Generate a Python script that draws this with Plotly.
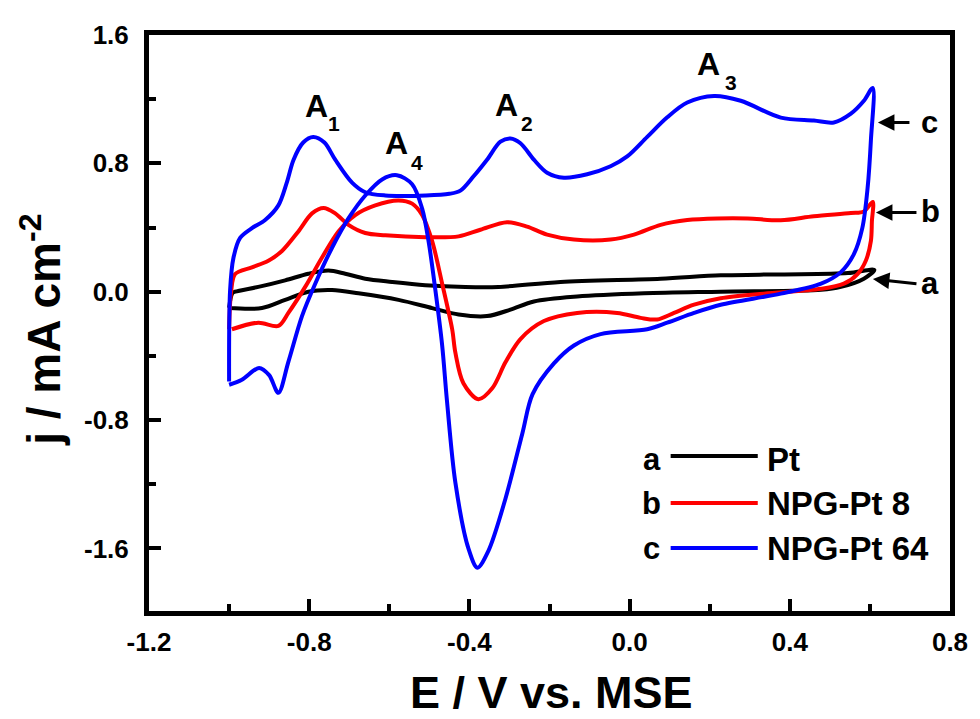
import plotly.graph_objects as go

# ---------------- data ----------------
# Pt (curve a): anodic sweep followed by cathodic sweep
pt_x = [-1.0, -0.992, -0.985, -0.927, -0.86, -0.802, -0.752, -0.71, -0.66, -0.593, -0.51, -0.41,
        -0.3275, -0.1725, 0.0775, 0.2275, 0.3775, 0.545, 0.611,
        0.585, 0.5275, 0.478, 0.2275, 0.036, -0.131, -0.239, -0.2975, -0.356, -0.427, -0.493,
        -0.577, -0.677, -0.743, -0.802, -0.86, -0.918, -1.0]
pt_y = [-0.10, -0.01, 0.0, 0.03, 0.071, 0.112, 0.132, 0.112, 0.081, 0.061, 0.041, 0.03,
        0.03, 0.061, 0.081, 0.102, 0.108, 0.116, 0.136,
        0.081, 0.03, 0.012, 0.0, -0.01, -0.03, -0.061, -0.112, -0.152, -0.142, -0.102,
        -0.051, -0.01, 0.01, 0.0, -0.051, -0.102, -0.102]

# NPG-Pt 8 (curve b)
npg8_x = [-1.0, -0.995, -0.985, -0.943, -0.902, -0.868, -0.827, -0.793, -0.764, -0.735, -0.702, -0.66,
          -0.61, -0.51, -0.427, -0.3725, -0.306, -0.256, -0.206, -0.139, -0.0475, 0.011, 0.0775,
          0.144, 0.219, 0.295, 0.3775, 0.46, 0.5525, 0.585, 0.607,
          0.605, 0.6025, 0.59, 0.569, 0.535, 0.478, 0.335, 0.2275, 0.161, 0.111, 0.069, 0.0275,
          -0.031, -0.131, -0.214, -0.2725, -0.31, -0.3425, -0.3775, -0.415, -0.435, -0.443,
          -0.468, -0.493, -0.518, -0.543, -0.577, -0.635, -0.685, -0.727, -0.768, -0.81, -0.852,
          -0.877, -0.927, -0.993]
npg8_y = [-0.234, 0.0, 0.11, 0.152, 0.193, 0.254, 0.376, 0.488, 0.522, 0.488, 0.417, 0.366,
          0.352, 0.34, 0.345, 0.386, 0.433, 0.406, 0.356, 0.325, 0.325, 0.356, 0.417,
          0.447, 0.457, 0.457, 0.445, 0.47, 0.49, 0.50, 0.56,
          0.44, 0.317, 0.195, 0.11, 0.05, 0.018, -0.012, -0.041, -0.081, -0.132, -0.173, -0.163,
          -0.132, -0.132, -0.183, -0.295, -0.44, -0.60, -0.67, -0.57, -0.38, -0.234,
          0.05, 0.315, 0.478, 0.549, 0.569, 0.538, 0.478, 0.376, 0.213, 0.03, -0.132,
          -0.213, -0.193, -0.234]

# NPG-Pt 64 (curve c)
npg64_x = [-1.0, -0.9975, -0.989, -0.9725, -0.943, -0.91, -0.877, -0.856, -0.839, -0.815, -0.79,
           -0.762, -0.735, -0.693, -0.66, -0.61, -0.51, -0.45, -0.4225, -0.389, -0.356, -0.3225,
           -0.2975, -0.2725, -0.239, -0.206, -0.164, -0.106, -0.0475, -0.006, 0.044, 0.094, 0.144,
           0.211, 0.2775, 0.3775, 0.46, 0.51, 0.5525, 0.585, 0.607,
           0.6025, 0.594, 0.581, 0.56, 0.5275, 0.478, 0.3775, 0.2275, 0.161, 0.094, 0.044,
           -0.0725, -0.139, -0.189, -0.2425, -0.2675, -0.31, -0.3525, -0.38, -0.4025, -0.435,
           -0.456, -0.468, -0.485, -0.502, -0.518, -0.543, -0.581, -0.618, -0.66, -0.702, -0.743,
           -0.785, -0.818, -0.852, -0.877, -0.9, -0.925, -0.968, -1.0]
npg64_y = [-0.56, 0.01, 0.213, 0.335, 0.396, 0.447, 0.538, 0.68, 0.823, 0.93, 0.965,
           0.93, 0.823, 0.68, 0.62, 0.60, 0.60, 0.61, 0.63, 0.721, 0.823, 0.935,
           0.955, 0.925, 0.823, 0.742, 0.711, 0.732, 0.782, 0.843, 0.965, 1.087, 1.179,
           1.22, 1.19, 1.085, 1.067, 1.055, 1.11, 1.19, 1.27,
           0.945, 0.64, 0.396, 0.234, 0.122, 0.05, -0.012, -0.081, -0.132, -0.193, -0.234,
           -0.264, -0.335, -0.447, -0.64, -0.88, -1.29, -1.615, -1.72, -1.6, -1.19,
           -0.68, -0.335, 0.01, 0.315, 0.518, 0.67, 0.726, 0.70, 0.60, 0.457, 0.274,
           0.05, -0.152, -0.437, -0.63, -0.52, -0.475, -0.549, -0.58]

series_letters = ["a", "b", "c"]
series_names = ["Pt", "NPG-Pt 8", "NPG-Pt 64"]
peak_names = ["A", "A", "A", "A"]
peak_indices = ["1", "2", "3", "4"]

x_tick_vals = [-1.2, -0.8, -0.4, 0.0, 0.4, 0.8]
x_tick_text = ["-1.2", "-0.8", "-0.4", "0.0", "0.4", "0.8"]
y_tick_vals = [-1.6, -0.8, 0.0, 0.8, 1.6]
y_tick_text = ["-1.6", "-0.8", "0.0", "0.8", "1.6"]

x_title = "E / V vs. MSE"
y_title = "j / mA cm<sup>-2</sup>"

# ---------------- styling ----------------
FONT = "Liberation Sans, Arial, sans-serif"
colors = ["#000000", "#ff0000", "#0000ff"]
LW = 4

fig = go.Figure()
for xs, ys, c, n in [(pt_x, pt_y, colors[0], series_names[0]),
                     (npg8_x, npg8_y, colors[1], series_names[1]),
                     (npg64_x, npg64_y, colors[2], series_names[2])]:
    fig.add_trace(go.Scatter(x=xs, y=ys, mode="lines", name=n,
                             line=dict(color=c, width=LW, shape="spline", smoothing=0.9),
                             showlegend=False))

annotations = []
shapes = []

# Peak labels A1..A4 (main letter + subscript)
peak_pos = [(-0.7825, 1.16, -0.7375, 1.049),
            (-0.3075, 1.165, -0.255, 1.046),
            (0.1975, 1.42, 0.2525, 1.302),
            (-0.5825, 0.927, -0.53, 0.808)]
for name, idx, (xa, ya, xs_, ys_) in zip(peak_names, peak_indices, peak_pos):
    annotations.append(dict(x=xa, y=ya, xref="x", yref="y", text=name, showarrow=False,
                            font=dict(family=FONT, size=32, color="black", weight="bold"),
                            xanchor="center", yanchor="middle"))
    annotations.append(dict(x=xs_, y=ys_, xref="x", yref="y", text=idx, showarrow=False,
                            font=dict(family=FONT, size=21, color="black", weight="bold"),
                            xanchor="center", yanchor="middle"))

# Arrows pointing at the curve ends with letters
arrow_pos = [(0.6075, 0.079, 0.72, 0.049, 0.75, 0.049),
             (0.615, 0.494, 0.72, 0.494, 0.752, 0.50),
             (0.62, 1.055, 0.7025, 1.055, 0.75, 1.055)]
for letter, (tx, ty, ax, ay, lx, ly) in zip(series_letters, arrow_pos):
    annotations.append(dict(x=tx, y=ty, ax=ax, ay=ay, xref="x", yref="y", axref="x", ayref="y",
                            text="", showarrow=True, arrowhead=2, arrowsize=1.1,
                            arrowwidth=3, arrowcolor="black", standoff=0, startstandoff=0))
    annotations.append(dict(x=lx, y=ly, xref="x", yref="y", text=letter, showarrow=False,
                            font=dict(family=FONT, size=31, color="black", weight="bold"),
                            xanchor="center", yanchor="middle"))

# Custom legend inside plot
leg_rows = [(-1.043, -1.024), (-1.317, -1.317), (-1.598, -1.598)]
for letter, name, c, (ty, ly) in zip(series_letters, series_names, colors, leg_rows):
    shapes.append(dict(type="line", xref="x", yref="y", x0=0.1025, x1=0.32, y0=ly, y1=ly,
                       line=dict(color=c, width=LW)))
    annotations.append(dict(x=0.055, y=ty, xref="x", yref="y", text=letter, showarrow=False,
                            font=dict(family=FONT, size=31, color="black", weight="bold"),
                            xanchor="center", yanchor="middle"))
    annotations.append(dict(x=0.337, y=ty, xref="x", yref="y", text=name, showarrow=False,
                            font=dict(family=FONT, size=33, color="black", weight="bold"),
                            xanchor="left", yanchor="middle"))

# Axis titles
annotations.append(dict(x=0.503, y=-0.142, xref="paper", yref="paper", text=x_title,
                        showarrow=False,
                        font=dict(family=FONT, size=45, color="black", weight="bold"),
                        xanchor="center", yanchor="middle"))
annotations.append(dict(x=-0.135, y=0.488, xref="paper", yref="paper", text=y_title,
                        showarrow=False, textangle=-90,
                        font=dict(family=FONT, size=46, color="black", weight="bold"),
                        xanchor="center", yanchor="middle"))

axis_common = dict(showgrid=False, zeroline=False, showline=True, linecolor="black", linewidth=5,
                   mirror=True, ticks="inside", ticklen=12, tickwidth=4, tickcolor="black",
                   tickfont=dict(family=FONT, size=26, color="black", weight="bold"))

fig.update_xaxes(range=[-1.2, 0.8], tickvals=x_tick_vals, ticktext=x_tick_text,
                 minor=dict(ticks="inside", ticklen=7, tickwidth=4, tickcolor="black", dtick=0.2,
                            tick0=-1.2, showgrid=False),
                 ticklabelstandoff=4, **axis_common)
fig.update_yaxes(range=[-1.99, 1.6], tickvals=y_tick_vals, ticktext=y_tick_text,
                 minor=dict(ticks="inside", ticklen=7, tickwidth=4, tickcolor="black", dtick=0.4,
                            tick0=-1.2, showgrid=False),
                 ticklabelstandoff=10, **axis_common)

# The page body has a default 8px margin, so the figure is offset by 8px in the window.
fig.update_layout(width=972, height=711, margin=dict(l=141, r=29, t=15, b=108),
                  paper_bgcolor="white", plot_bgcolor="white",
                  annotations=annotations, shapes=shapes, showlegend=False)

fig.write_html("out.html")
